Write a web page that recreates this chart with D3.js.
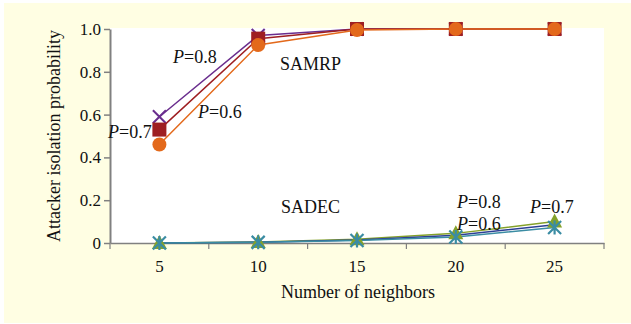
<!DOCTYPE html>
<html><head><meta charset="utf-8">
<script src="https://cdn.jsdelivr.net/npm/d3@7"></script>
<style>body{margin:0;background:#fff}svg{display:block}text{font-family:"Liberation Serif","Times New Roman",serif;fill:#111}</style>
</head><body><svg id="c" width="631" height="324"></svg>
<script>
const categories = [5, 10, 15, 20, 25];
const yTicks = [0, 0.2, 0.4, 0.6, 0.8, 1.0];
const yTickLabels = ["0", "0.2", "0.4", "0.6", "0.8", "1.0"];
const samrp08 = [0.59, 0.97, 1.0, 1.0, 1.0];
const samrp07 = [0.53, 0.955, 1.0, 1.0, 1.0];
const samrp06 = [0.46, 0.925, 0.995, 1.0, 1.0];
const sadec07 = [0.0, 0.005, 0.017, 0.045, 0.1];
const sadec08 = [0.0, 0.004, 0.014, 0.036, 0.085];
const sadec06 = [0.0, 0.003, 0.012, 0.028, 0.072];

const series = [
  {name:"SAMRP P=0.8", values:samrp08, color:"#6a2e8e", marker:"x"},
  {name:"SAMRP P=0.7", values:samrp07, color:"#9e1f22", marker:"square"},
  {name:"SAMRP P=0.6", values:samrp06, color:"#e3691b", marker:"circle"},
  {name:"SADEC P=0.7", values:sadec07, color:"#84a12a", marker:"triangle"},
  {name:"SADEC P=0.8", values:sadec08, color:"#2c3f94", marker:"none"},
  {name:"SADEC P=0.6", values:sadec06, color:"#3a8ca3", marker:"asterisk"}
];

const svg = d3.select("#c");
svg.append("rect").attr("x",4).attr("y",3).attr("width",627).attr("height",320).attr("fill","#fffee3");
const L=110, R=604, T=29, B=243;
svg.append("rect").attr("x",L).attr("y",T-1).attr("width",R-L).attr("height",B-T+1).attr("fill","#fff");

const x = d3.scaleBand().domain(categories).range([L,R]);
const xc = d => x(d) + x.bandwidth()/2;
const y = d3.scaleLinear().domain([0,1]).range([B,T]);

// y axis
const ya = svg.append("g").attr("transform",`translate(${L},0)`)
  .call(d3.axisLeft(y).tickValues(yTicks).tickFormat((d,i)=>yTickLabels[i]).tickSize(6).tickSizeOuter(0).tickPadding(3));
ya.select(".domain").attr("stroke","#808080").attr("stroke-width",2);
ya.selectAll(".tick line").attr("stroke","#808080").attr("stroke-width",1.5);
ya.selectAll(".tick text").attr("font-size",17).attr("font-family","Liberation Serif").attr("fill","#111");

// x axis
const xa = svg.append("g").attr("transform",`translate(0,${B})`)
  .call(d3.axisBottom(x).tickSize(0).tickPadding(17));
xa.select(".domain").attr("stroke","#808080").attr("stroke-width",1.5);
xa.selectAll(".tick text").attr("font-size",17).attr("font-family","Liberation Serif").attr("fill","#111");
const bounds = categories.map(c=>x(c)).concat([x(categories[categories.length-1])+x.bandwidth()]);
xa.selectAll("line.sep").data(bounds).enter().append("line").attr("class","sep")
  .attr("x1",d=>d).attr("x2",d=>d).attr("y1",0).attr("y2",6).attr("stroke","#808080").attr("stroke-width",1.2);

// titles
svg.append("text").attr("x",358).attr("y",298).attr("text-anchor","middle").attr("font-size",18).text("Number of neighbors");
svg.append("text").attr("transform",`translate(60,${(T+B)/2}) rotate(-90)`).attr("text-anchor","middle").attr("font-size",18).text("Attacker isolation probability");

const line = d3.line().x((d,i)=>xc(categories[i])).y(d=>y(d));
series.forEach(s=>{
  svg.append("path").datum(s.values).attr("d",line).attr("fill","none").attr("stroke",s.color).attr("stroke-width",1.5);
});

function drawMarker(g, s){
  s.values.forEach((v,i)=>{
    const cx = xc(categories[i]), cy = y(v);
    if(s.marker==="square") g.append("rect").attr("x",cx-7).attr("y",cy-7).attr("width",14).attr("height",14).attr("fill",s.color);
    else if(s.marker==="circle") g.append("circle").attr("cx",cx).attr("cy",cy).attr("r",7).attr("fill",s.color);
    else if(s.marker==="x") g.append("path").attr("d",`M${cx-6.5},${cy-6.5}L${cx+6.5},${cy+6.5}M${cx-6.5},${cy+6.5}L${cx+6.5},${cy-6.5}`).attr("stroke",s.color).attr("stroke-width",2);
    else if(s.marker==="triangle") g.append("path").attr("d",`M${cx},${cy-8}L${cx+7.5},${cy+6}L${cx-7.5},${cy+6}Z`).attr("fill",s.color);
    else if(s.marker==="asterisk") g.append("path").attr("d",`M${cx-6.5},${cy-6.5}L${cx+6.5},${cy+6.5}M${cx-6.5},${cy+6.5}L${cx+6.5},${cy-6.5}M${cx},${cy-7}L${cx},${cy+7}`).attr("stroke",s.color).attr("stroke-width",2.2);
  });
}
const mg = svg.append("g");
// draw order: x, square, circle, then SADEC
[series[0],series[1],series[2],series[3],series[5]].forEach(s=>drawMarker(mg,s));

function ann(xp, yp, val){
  const t = svg.append("text").attr("x",xp).attr("y",yp).attr("font-size",18);
  t.append("tspan").attr("font-style","italic").text("P");
  t.append("tspan").text("="+val);
}
ann(173,63,"0.8");
ann(198,118,"0.6");
ann(108,138,"0.7");
svg.append("text").attr("x",280).attr("y",70).attr("font-size",18).text("SAMRP");
svg.append("text").attr("x",281).attr("y",213).attr("font-size",18).text("SADEC");
ann(457,208,"0.8");
ann(457,230,"0.6");
ann(530,213,"0.7");
</script></body></html>
